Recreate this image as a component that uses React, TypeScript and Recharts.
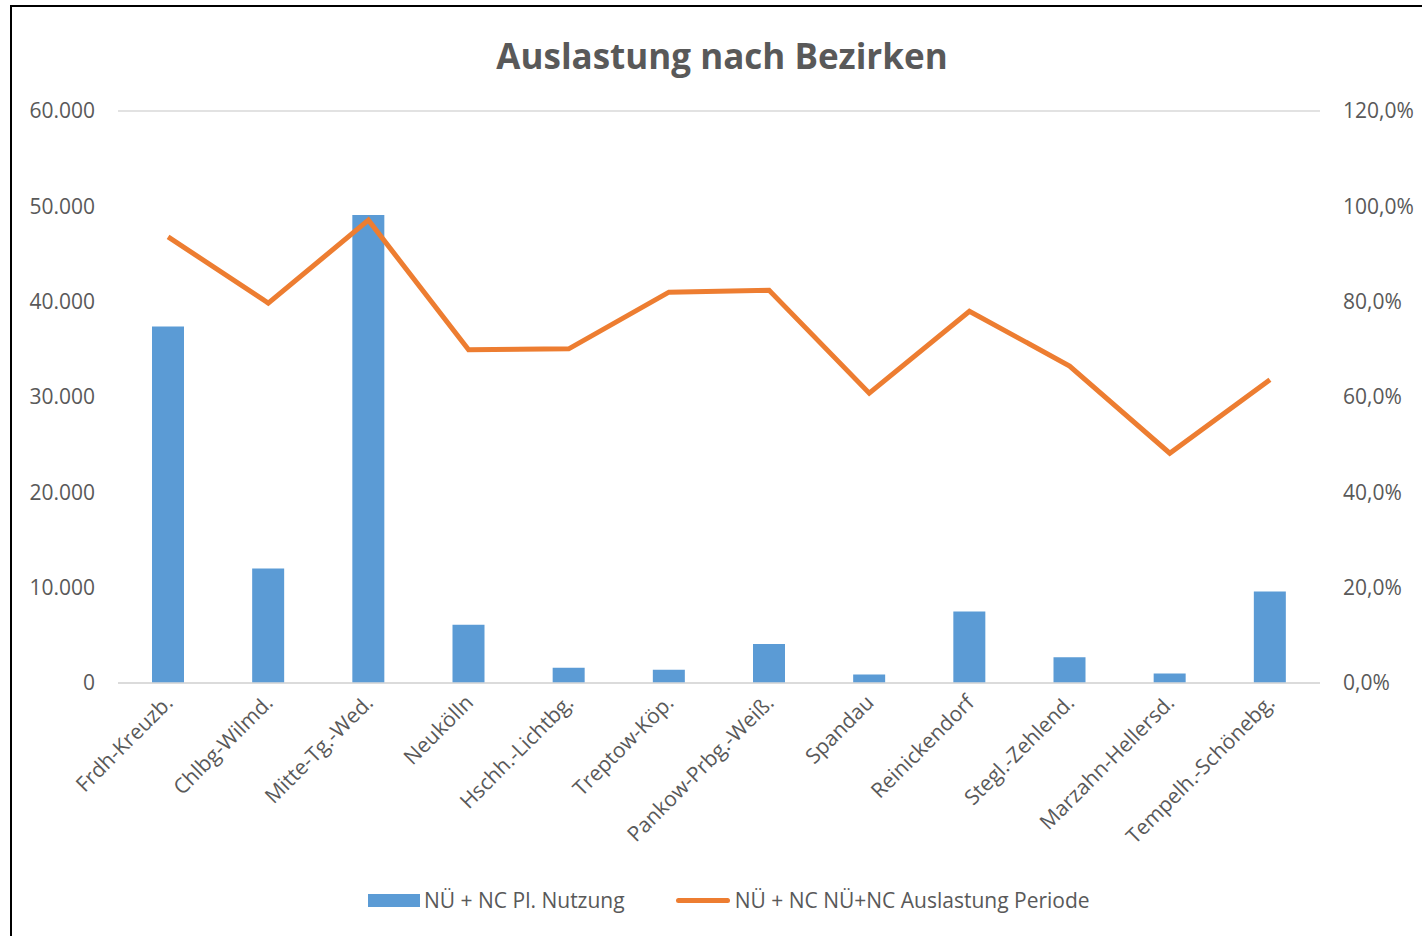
import React from 'react';
import { ComposedChart, Bar, Line, XAxis, YAxis, CartesianGrid } from 'recharts';

const districts = [
  'Frdh-Kreuzb.', 'Chlbg-Wilmd.', 'Mitte-Tg.-Wed.', 'Neukölln', 'Hschh.-Lichtbg.', 'Treptow-Köp.',
  'Pankow-Prbg.-Weiß.', 'Spandau', 'Reinickendorf', 'Stegl.-Zehlend.', 'Marzahn-Hellersd.', 'Tempelh.-Schönebg.',
];
const nutzung = [37400, 12000, 49100, 6100, 1600, 1400, 4100, 900, 7500, 2700, 1000, 9600];
const auslastung = [93.6, 79.7, 97.1, 69.9, 70.1, 82.0, 82.4, 60.8, 78.0, 66.5, 48.2, 63.6];
const leftTicks = [0, 10000, 20000, 30000, 40000, 50000, 60000];
const rightTicks = [0, 20, 40, 60, 80, 100, 120];

const barName = 'NÜ + NC Pl. Nutzung';
const lineName = 'NÜ + NC NÜ+NC Auslastung Periode';

const data = districts.map((name, i) => ({ name, nutzung: nutzung[i], auslastung: auslastung[i] }));

const FONT = '"Open Sans", sans-serif';
const GREY = '#595959';

const fmtThousands = (v: number) => (v === 0 ? '0' : v.toLocaleString('de-DE'));
const fmtPercent = (v: number) => `${v.toFixed(1).replace('.', ',')}%`;

function CategoryTick({ x, y, payload }: any) {
  return (
    <text
      transform={`translate(${x + 2},${y + 15}) rotate(-45)`}
      textAnchor="end"
      dominantBaseline="middle"
      fill={GREY}
      fontSize={21}
      fontFamily={FONT}
    >
      {payload.value}
    </text>
  );
}

export default function App() {
  return (
    <div
      style={{
        position: 'fixed',
        left: 10,
        top: 5,
        width: 1420,
        height: 940,
        border: '2px solid #000',
        background: '#fff',
        fontFamily: FONT,
      }}
    >
      <div
        style={{
          position: 'absolute',
          top: 25,
          left: 0,
          width: 1420,
          textAlign: 'center',
          fontSize: 35,
          fontWeight: 700,
          color: GREY,
        }}
      >
        Auslastung nach Bezirken
      </div>
      <ComposedChart
        width={1410}
        height={929}
        data={data}
        margin={{ top: 104, right: 0, bottom: 63, left: 0 }}
      >
        <CartesianGrid vertical={false} stroke="#d9d9d9" strokeWidth={1.5} />
        <XAxis
          dataKey="name"
          interval={0}
          tick={<CategoryTick />}
          tickLine={false}
          axisLine={{ stroke: '#d9d9d9', strokeWidth: 1.5 }}
          tickSize={0}
          height={190}
        />
        <YAxis
          yAxisId="left"
          orientation="left"
          width={106}
          domain={[0, 60000]}
          ticks={leftTicks}
          tickFormatter={fmtThousands}
          axisLine={false}
          tickLine={false}
          tickSize={0}
          tickMargin={23}
          tick={{ fill: GREY, fontSize: 21, fontFamily: FONT }}
        />
        <YAxis
          yAxisId="right"
          orientation="right"
          width={102}
          domain={[0, 120]}
          ticks={rightTicks}
          tickFormatter={fmtPercent}
          axisLine={false}
          tickLine={false}
          tickSize={0}
          tickMargin={23}
          tick={{ fill: GREY, fontSize: 21, fontFamily: FONT, textAnchor: 'start' }}
        />
        <Bar
          yAxisId="left"
          dataKey="nutzung"
          name={barName}
          fill="#5B9BD5"
          barSize={32}
          isAnimationActive={false}
        />
        <Line
          yAxisId="right"
          dataKey="auslastung"
          name={lineName}
          stroke="#ED7D31"
          strokeWidth={5}
          dot={false}
          activeDot={false}
          isAnimationActive={false}
        />
      </ComposedChart>
      <div
        style={{
          position: 'absolute',
          top: 879,
          left: 356,
          display: 'flex',
          alignItems: 'center',
          fontSize: 21,
          color: GREY,
          whiteSpace: 'nowrap',
        }}
      >
        <span style={{ display: 'inline-block', width: 52, height: 13, background: '#5B9BD5', marginRight: 4 }} />
        <span>{barName}</span>
        <span
          style={{
            display: 'inline-block',
            width: 54,
            height: 5,
            borderRadius: 3,
            background: '#ED7D31',
            marginLeft: 51,
            marginRight: 5,
          }}
        />
        <span>{lineName}</span>
      </div>
    </div>
  );
}
